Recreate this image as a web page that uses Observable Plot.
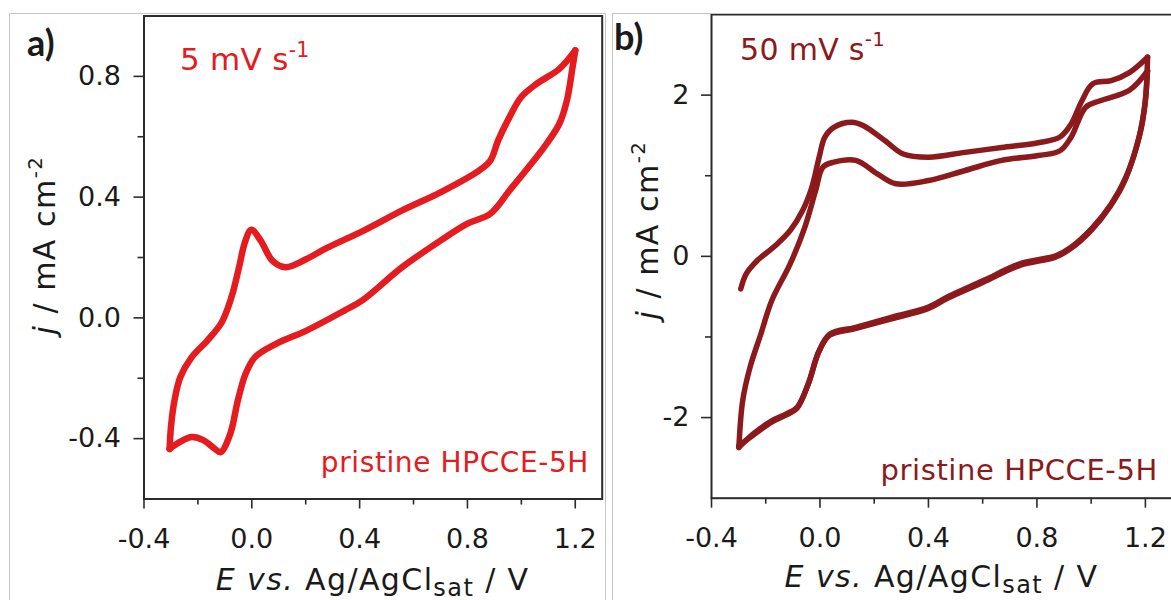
<!DOCTYPE html>
<html>
<head>
<meta charset="utf-8">
<script src="https://cdn.jsdelivr.net/npm/d3@7"></script>
<script src="https://cdn.jsdelivr.net/npm/@observablehq/plot@0.6"></script>
<style>
  html, body { margin: 0; padding: 0; background: #fff; }
  #fig { position: relative; width: 1171px; height: 600px; overflow: hidden; background: #fff; }
  .panel { position: absolute; top: 0; height: 600px; }
  .box { position: absolute; box-sizing: border-box; border: 1px solid #c6c6c6; pointer-events: none; }
</style>
</head>
<body>
<div id="fig">
  <div class="panel" id="pa" style="left:0px;width:608px"></div>
  <div class="panel" id="pb" style="left:608px;width:564px"></div>
  <div class="box" style="left:9px;top:13px;width:597px;height:620px"></div>
  <div class="box" style="left:612px;top:13px;width:600px;height:620px"></div>
</div>
<script>
// ---- axis ticks ----
const xMajor = [-0.4, 0, 0.4, 0.8, 1.2];
const xMinor = [-0.2, 0.2, 0.6, 1.0];
const aYMajor = [-0.4, 0, 0.4, 0.8];
const aYMinor = [-0.2, 0.2, 0.6];
const bYMajor = [-2, 0, 2];
const bYMinor = [-1, 1];

// ---- (a) 5 mV/s cyclic voltammogram (E in V, j in mA cm^-2) ----
const aAnodicE = [-0.305, -0.300, -0.287, -0.265, -0.223, -0.165, -0.115, -0.090, -0.070, -0.048, -0.025, -0.002, 0.033, 0.076, 0.125, 0.203, 0.275, 0.417, 0.558, 0.700, 0.843, 0.885, 0.914, 0.956, 0.999, 1.056, 1.141, 1.200];
const aAnodicJ = [-0.434, -0.362, -0.274, -0.196, -0.130, -0.075, -0.020, 0.030, 0.085, 0.165, 0.252, 0.292, 0.256, 0.190, 0.168, 0.195, 0.230, 0.290, 0.356, 0.416, 0.488, 0.521, 0.588, 0.665, 0.731, 0.775, 0.825, 0.886];
const aCathodicE = [1.200, 1.190, 1.169, 1.141, 1.084, 1.027, 0.956, 0.885, 0.800, 0.700, 0.558, 0.410, 0.345, 0.203, 0.090, 0.012, -0.023, -0.052, -0.080, -0.116, -0.137, -0.180, -0.223, -0.265, -0.305];
const aCathodicJ = [0.886, 0.830, 0.720, 0.643, 0.565, 0.500, 0.422, 0.345, 0.312, 0.256, 0.168, 0.058, 0.025, -0.042, -0.086, -0.130, -0.185, -0.274, -0.384, -0.445, -0.434, -0.405, -0.395, -0.410, -0.434];

// ---- (b) 50 mV/s cyclic voltammogram, two cycles ----
const bAnodic1E = [-0.292, -0.272, -0.231, -0.164, -0.110, -0.064, -0.030, -0.003, 0.018, 0.051, 0.118, 0.159, 0.239, 0.307, 0.401, 0.535, 0.670, 0.805, 0.885, 0.926, 0.966, 1.006, 1.074, 1.141, 1.208];
const bAnodic1J = [-0.403, -0.217, -0.052, 0.134, 0.320, 0.568, 0.857, 1.230, 1.478, 1.600, 1.663, 1.623, 1.437, 1.270, 1.230, 1.290, 1.350, 1.410, 1.480, 1.640, 1.930, 2.140, 2.180, 2.280, 2.470];
const bCathodic1E = [1.208, 1.200, 1.180, 1.128, 1.074, 1.006, 0.926, 0.872, 0.737, 0.603, 0.468, 0.400, 0.266, 0.132, 0.037, -0.003, -0.043, -0.084, -0.124, -0.178, -0.245, -0.299];
const bCathodic1J = [2.470, 1.930, 1.520, 0.980, 0.650, 0.360, 0.113, 0.010, -0.093, -0.300, -0.507, -0.630, -0.755, -0.880, -0.963, -1.170, -1.580, -1.872, -1.954, -2.040, -2.200, -2.370];
const bAnodic2E = [-0.299, -0.285, -0.258, -0.218, -0.178, -0.110, -0.056, -0.016, 0.011, 0.051, 0.132, 0.213, 0.280, 0.401, 0.535, 0.670, 0.805, 0.885, 0.926, 0.980, 1.033, 1.141, 1.208];
const bAnodic2J = [-2.370, -1.790, -1.377, -0.963, -0.550, -0.094, 0.360, 0.816, 1.106, 1.168, 1.190, 1.020, 0.900, 0.940, 1.065, 1.190, 1.250, 1.310, 1.478, 1.850, 1.930, 2.060, 2.300];
const bCathodic2E = [1.208, 1.198, 1.176, 1.124, 1.070, 1.002, 0.922, 0.868, 0.735, 0.600, 0.465, 0.398, 0.264, 0.130, 0.035, -0.005, -0.045, -0.086, -0.126, -0.180, -0.247, -0.299];
const bCathodic2J = [2.300, 1.880, 1.470, 0.940, 0.620, 0.330, 0.090, -0.010, -0.115, -0.325, -0.530, -0.650, -0.775, -0.895, -0.980, -1.190, -1.600, -1.890, -1.970, -2.060, -2.220, -2.350];

const colorA = "#e41b1f";
const colorB = "#8c1a1c";
const FONT = "'DejaVu Sans', 'Liberation Sans', sans-serif";

const rows = (E, J, scan) => E.map((e, i) => ({E: e, j: J[i], scan}));
const dataA = [...rows(aAnodicE, aAnodicJ, "anodic"), ...rows(aCathodicE, aCathodicJ, "cathodic")];
const dataB = [
  ...rows(bAnodic1E, bAnodic1J, "anodic 1"), ...rows(bCathodic1E, bCathodic1J, "cathodic 1"),
  ...rows(bAnodic2E, bAnodic2J, "anodic 2"), ...rows(bCathodic2E, bCathodic2J, "cathodic 2")
];

function axisMarks(yMajor, yMinor, yFormat, yPad) {
  const tick = {stroke: "#2b2b2b", strokeWidth: 1.6, label: null};
  return [
    Plot.axisX({...tick, ticks: xMajor, tickSize: 10, tickPadding: 20, tickFormat: d => d.toFixed(1)}),
    Plot.axisX({...tick, ticks: xMinor, tickSize: 6, tickFormat: () => ""}),
    Plot.axisY({...tick, ticks: yMajor, tickSize: 10, tickPadding: yPad, tickFormat: yFormat}),
    Plot.axisY({...tick, ticks: yMinor, tickSize: 6, tickFormat: () => ""}),
    Plot.frame({stroke: "#2b2b2b", strokeWidth: 2})
  ];
}

// text with italic / superscript / subscript runs
function richText(svg, o, parts) {
  const t = d3.select(svg).append("text")
    .attr("transform", `translate(${o.x},${o.y}) rotate(${o.rotate || 0})`)
    .attr("text-anchor", o.anchor || "start")
    .attr("fill", o.color || "#1a1a1a")
    .style("font-family", o.family || FONT)
    .style("font-size", o.size + "px")
    .style("font-weight", o.weight || "normal")
    .style("letter-spacing", (o.spacing || 0) + "px");
  let shift = 0;
  for (const p of parts) {
    const s = p.sup ? -o.size * 0.45 : p.sub ? o.size * 0.2 : 0;
    const ts = t.append("tspan").text(p.t);
    if (s - shift !== 0) ts.attr("dy", s - shift);
    shift = s;
    if (p.sup) ts.style("font-size", (o.size * 0.66) + "px");
    if (p.sub) ts.style("font-size", (o.size * 0.8) + "px");
    if (p.italic) ts.style("font-style", "italic");
  }
}

const style = {fontFamily: FONT, fontSize: "27px", color: "#1a1a1a", background: "transparent", overflow: "visible"};

// ---- panel (a) ----
const chartA = Plot.plot({
  width: 608, height: 600,
  marginLeft: 143.5, marginRight: 6.3, marginTop: 15.5, marginBottom: 101.5,
  x: {domain: [-0.4, 1.3], label: null},
  y: {domain: [-0.6, 1.0], label: null},
  style,
  marks: [
    ...axisMarks(aYMajor, aYMinor, d => d.toFixed(1), 13),
    Plot.line(dataA, {x: "E", y: "j", z: "scan", stroke: colorA, strokeWidth: 6.5, curve: "catmull-rom", strokeLinejoin: "round", strokeLinecap: "round"})
  ]
});
document.getElementById("pa").append(chartA);
{
  const sx = chartA.scale("x"), sy = chartA.scale("y");
  const [x0, x1] = sx.range, [yb] = sy.range;
  richText(chartA, {x: 27, y: 56, size: 36, weight: "bold", family: "Lato, 'Open Sans', sans-serif"}, [{t: "a)"}]);
  richText(chartA, {x: sx.apply(-0.265), y: sy.apply(0.818), size: 31, color: colorA, spacing: 0.3},
    [{t: "5 mV s"}, {t: "-1", sup: true}]);
  richText(chartA, {x: sx.apply(1.253), y: sy.apply(-0.511), size: 28, color: colorA, anchor: "end", spacing: 0.6},
    [{t: "pristine HPCCE-5H"}]);
  richText(chartA, {x: (x0 + x1) / 2, y: yb + 91, size: 30, anchor: "middle", spacing: 1.4},
    [{t: "E vs.", italic: true}, {t: " Ag/AgCl"}, {t: "sat", sub: true}, {t: " / V"}]);
  richText(chartA, {x: 55, y: 245, size: 30, anchor: "middle", rotate: -90, spacing: 1.5},
    [{t: "j", italic: true}, {t: " / mA cm"}, {t: "-2", sup: true}]);
}

// ---- panel (b) ----
const chartB = Plot.plot({
  width: 564, height: 600,
  marginLeft: 103, marginRight: 0, marginTop: 14, marginBottom: 102.3,
  x: {domain: [-0.4, 1.3], label: null},
  y: {domain: [-3, 3], label: null},
  style,
  marks: [
    ...axisMarks(bYMajor, bYMinor, d => String(d), 12),
    Plot.line(dataB, {x: "E", y: "j", z: "scan", stroke: colorB, strokeWidth: 5.5, curve: "catmull-rom", strokeLinejoin: "round", strokeLinecap: "round"})
  ]
});
document.getElementById("pb").append(chartB);
{
  const sx = chartB.scale("x"), sy = chartB.scale("y");
  const [x0, x1] = sx.range, [yb] = sy.range;
  richText(chartB, {x: 6, y: 50, size: 36, weight: "bold", family: "Lato, 'Open Sans', sans-serif"}, [{t: "b)"}]);
  richText(chartB, {x: sx.apply(-0.293), y: sy.apply(2.43), size: 30, color: colorB, spacing: 0.3},
    [{t: "50 mV s"}, {t: "-1", sup: true}]);
  richText(chartB, {x: sx.apply(1.248), y: sy.apply(-2.78), size: 29, color: colorB, anchor: "end", spacing: 0.6},
    [{t: "pristine HPCCE-5H"}]);
  richText(chartB, {x: (x0 + x1) / 2, y: yb + 89, size: 30, anchor: "middle", spacing: 1.4},
    [{t: "E vs.", italic: true}, {t: " Ag/AgCl"}, {t: "sat", sub: true}, {t: " / V"}]);
  richText(chartB, {x: 50, y: 230, size: 30, anchor: "middle", rotate: -90, spacing: 1.5},
    [{t: "j", italic: true}, {t: " / mA cm"}, {t: "-2", sup: true}]);
}
</script>
</body>
</html>
